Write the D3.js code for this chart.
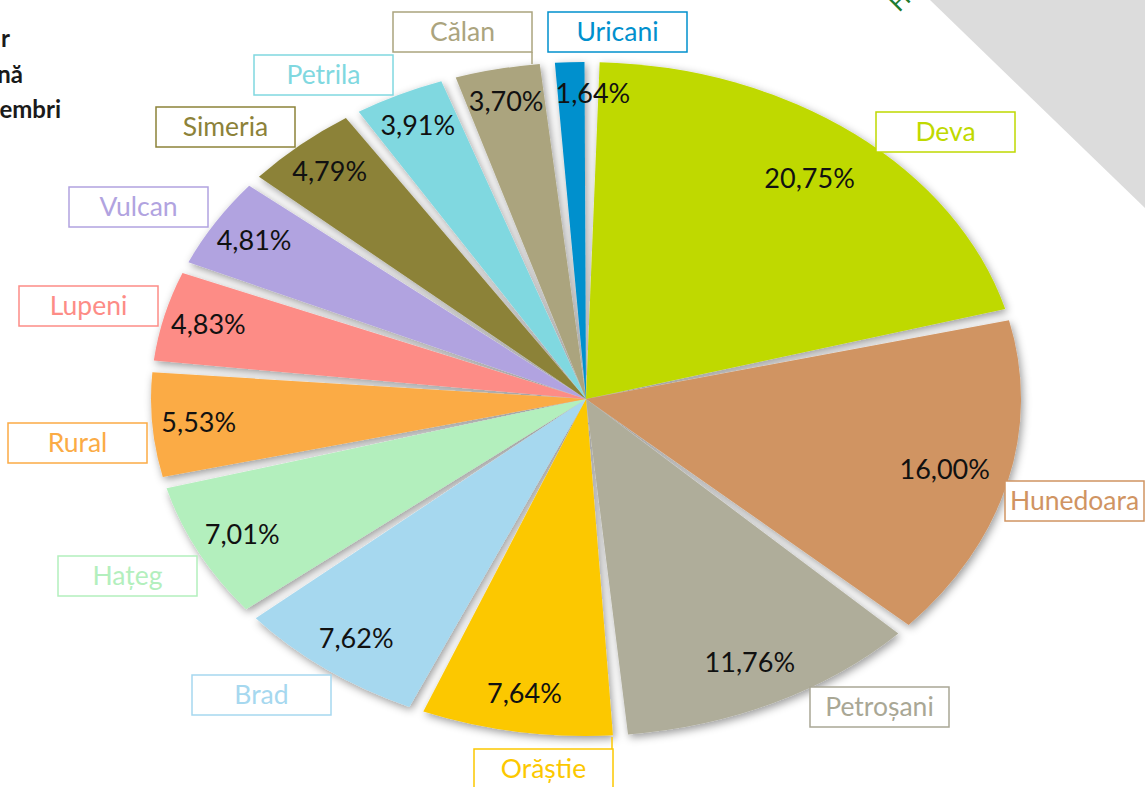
<!DOCTYPE html>
<html>
<head>
<meta charset="utf-8">
<script src="https://cdn.jsdelivr.net/npm/d3@7"></script>
<style>
  html, body { margin: 0; padding: 0; background: #fff; }
  svg { display: block; font-family: Lato, 'Noto Sans', sans-serif; }
</style>
</head>
<body>
<div id="chart"></div>
<script>
const categories = ['Deva', 'Hunedoara', 'Petroșani', 'Orăștie', 'Brad', 'Hațeg', 'Rural',
  'Lupeni', 'Vulcan', 'Simeria', 'Petrila', 'Călan', 'Uricani'];
const shares = [20.75, 16.00, 11.76, 7.64, 7.62, 7.01, 5.53, 4.83, 4.81, 4.79, 3.91, 3.70, 1.64];
const sliceColors = ['#BFD900', '#D09462', '#AFAD9A', '#FCC800', '#A6D8EF', '#B3EFBD', '#FBAB45',
  '#FD8C86', '#B1A3E0', '#8C8239', '#80D8E0', '#ABA47E', '#0090CD'];
const labelColors = ['#BFD900', '#D09462', '#A9A795', '#FCC800', '#A6D8EF', '#B3EFBD', '#FBAB45',
  '#FD8C86', '#B1A3E0', '#8C8239', '#80D8E0', '#ABA47E', '#0090CD'];
// top-left corner of each category box
const labelBoxes = [[876, 112], [1005, 481], [810, 687], [474, 749], [192, 675], [58, 556], [8, 423],
  [19, 286], [69, 187], [156, 107], [254, 55], [393, 12], [548, 12]];
const titleLines = ['r', 'nă', 'embri'];

const W = 1145, H = 787;
const cx = 586, cy = 399, rx = 435, ry = 337;
const gap = 2.0 * Math.PI / 180;
const start = 0.8 * Math.PI / 180;

const svg = d3.select('#chart').append('svg')
  .attr('width', W).attr('height', H)
  .attr('viewBox', `0 0 ${W} ${H}`);

const defs = svg.append('defs');
const f = defs.append('filter').attr('id', 'shadow')
  .attr('x', '-10%').attr('y', '-10%').attr('width', '120%').attr('height', '120%');
f.append('feDropShadow').attr('dx', 2).attr('dy', 3).attr('stdDeviation', 4)
  .attr('flood-color', '#000').attr('flood-opacity', 0.4);

// grey corner band + cut-off heading
svg.append('path').attr('d', d3.line()([[930, 0], [W, 0], [W, 208]]) + 'Z').attr('fill', '#DCDCDC');
svg.append('text').attr('transform', 'translate(899,13) rotate(-45)')
  .attr('fill', '#1E7B30').attr('font-size', 24).text('Hunedoara');

svg.append('g').selectAll('text').data(titleLines).join('text')
  .attr('x', (d, i) => [10, 23, 61][i])
  .attr('y', (d, i) => 47 + i * 35.5)
  .attr('text-anchor', 'end')
  .attr('font-weight', 700).attr('font-size', 24).attr('fill', '#1a1a1a')
  .text(d => d);

const pie = d3.pie().sort(null).value(d => d)
  .startAngle(start).endAngle(start + 2 * Math.PI);
const arcs = pie(shares);
const arc = d3.arc().innerRadius(0).outerRadius(rx)
  .startAngle(d => d.startAngle + gap / 2)
  .endAngle(d => d.endAngle - gap / 2);

const pieG = svg.append('g').attr('filter', 'url(#shadow)')
  .append('g').attr('transform', `translate(${cx},${cy}) scale(1,${ry / rx})`);
pieG.selectAll('path').data(arcs).join('path')
  .attr('d', arc)
  .attr('fill', (d, i) => sliceColors[i]);

// leader stubs (box edge extended to slice)
svg.append('line').attr('x1', 532).attr('x2', 532).attr('y1', 52).attr('y2', 64)
  .attr('stroke', labelColors[11]).attr('stroke-width', 1.5);
svg.append('line').attr('x1', 612).attr('x2', 612).attr('y1', 749).attr('y2', 737)
  .attr('stroke', labelColors[3]).attr('stroke-width', 1.5);

const fmt = d3.formatLocale({ decimal: ',', thousands: '.', grouping: [3], currency: ['', ''] }).format('.2f');

// inside-end labels: small slices sit a little closer to the rim
const labelR = d => 0.915 - 0.004 * d.data;

const pct = svg.append('g');
const pctText = pct.selectAll('text').data(arcs).join('text')
  .attr('x', d => cx + rx * labelR(d) * Math.sin((d.startAngle + d.endAngle) / 2))
  .attr('y', d => cy - ry * labelR(d) * Math.cos((d.startAngle + d.endAngle) / 2))
  .attr('dy', '0.35em')
  .attr('text-anchor', 'middle')
  .attr('font-size', 27).attr('fill', '#111')
  .text(d => fmt(d.data) + '%');

// push a label right when it collides with the one before it
const nodes = pctText.nodes();
for (let i = 1; i < nodes.length; i++) {
  const a = nodes[i - 1].getBBox(), b = nodes[i].getBBox();
  const overlapX = a.x + a.width - b.x;
  const overlapY = Math.min(a.y + a.height, b.y + b.height) - Math.max(a.y, b.y);
  if (overlapX > -6 && b.x > a.x && overlapY > 0) {
    d3.select(nodes[i]).attr('x', +nodes[i].getAttribute('x') + overlapX + 12);
  }
}

const boxes = svg.append('g').selectAll('g').data(categories).join('g')
  .attr('transform', (d, i) => `translate(${labelBoxes[i][0]},${labelBoxes[i][1]})`);
boxes.append('rect')
  .attr('width', 139).attr('height', 40)
  .attr('fill', '#fff')
  .attr('stroke', (d, i) => labelColors[i]).attr('stroke-width', 1.5);
boxes.append('text')
  .attr('x', 69.5).attr('y', 20).attr('dy', '0.35em')
  .attr('text-anchor', 'middle')
  .attr('font-size', 26.5)
  .attr('fill', (d, i) => labelColors[i])
  .text(d => d);
</script>
</body>
</html>
